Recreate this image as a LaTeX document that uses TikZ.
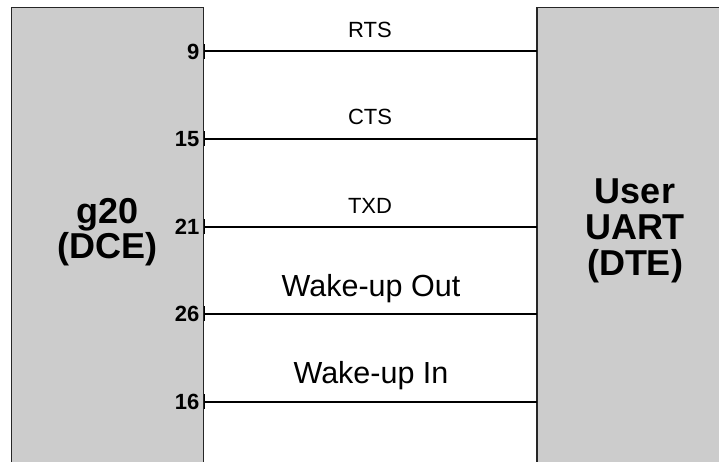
\documentclass[tikz,border=0pt]{standalone}
\usepackage{fontspec}
\setmainfont{Liberation Sans}
\begin{document}
\begin{tikzpicture}[x=1pt,y=-1pt,
  box/.style={fill=boxgray,draw=black!85,line width=1.2pt},
  wire/.style={draw=black,line width=2pt},
  tick/.style={draw=black,line width=1.4pt},
  pinlbl/.style={anchor=base east,inner sep=0pt,font=\fontsize{22}{26}\selectfont\bfseries},
  siglbl/.style={anchor=base,inner sep=0pt,font=\fontsize{22}{26}\selectfont},
  biglbl/.style={anchor=base,inner sep=0pt,font=\fontsize{30.5}{36}\selectfont},
  boxlbl/.style={anchor=base,inner sep=0pt,font=\fontsize{36}{40}\selectfont\bfseries}]
\definecolor{boxgray}{HTML}{CCCCCC}
\useasboundingbox (0,0) rectangle (719,461);
\clip (0,0) rectangle (719,461);
\fill[white] (0,0) rectangle (719,461);
% boxes
\draw[box] (11.5,7.5) rectangle (203.5,480);
\draw[box] (537,7.5) rectangle (740,480);
\node[boxlbl] (g) at (107.5,223) {g20};
\node[boxlbl] (dce) at (107.5,258) {(DCE)};
\node[boxlbl] (user) at (635,203) {User};
\node[boxlbl] (uart) at (635,239.5) {UART};
\node[boxlbl] (dte) at (635,275) {(DTE)};
% pins
\foreach \n/\y/\p in {1/51/9,2/138.5/15,3/226.5/21,4/313.5/26,5/401.5/16}{
  \coordinate (L\n) at (204.5,\y);
  \coordinate (R\n) at (537,\y);
  \draw[wire] (L\n) -- (R\n);
  \draw[tick] ([yshift=-7.5pt]L\n) -- ([yshift=7.5pt]L\n);
  \node[pinlbl] (p\n) at (199.5,\y+8) {\p};
}
\node[siglbl] (rts) at (370,37.3) {RTS};
\node[siglbl] (cts) at (370,124.8) {CTS};
\node[siglbl] (txd) at (370,213) {TXD};
\node[biglbl] (wout) at (371,296.7) {Wake-up Out};
\node[biglbl] (win) at (371,383) {Wake-up In};
\end{tikzpicture}
\end{document}
